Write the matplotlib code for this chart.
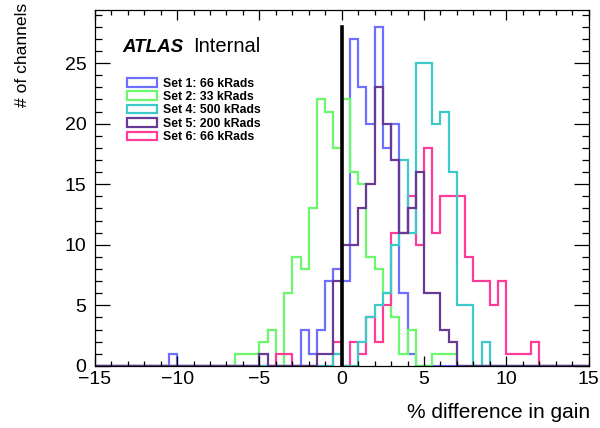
import numpy as np
import matplotlib
matplotlib.use('Agg')
import matplotlib.pyplot as plt
from matplotlib.patches import Rectangle
from matplotlib.ticker import MultipleLocator

plt.rcParams['font.family'] = ['Liberation Sans', 'DejaVu Sans']

# 60 bins of 0.5 from -15 to 15
x_lo, x_hi, bin_w = -15.0, 15.0, 0.5

labels = ['Set 1: 66 kRads', 'Set 2: 33 kRads', 'Set 4: 500 kRads',
          'Set 5: 200 kRads', 'Set 6: 66 kRads']
colors = ['#6e6eff', '#6cf76c', '#3ec9c9', '#683a96', '#ff3c98']

# lower edge of the first listed bin, then counts per 0.5 bin
set1_start = -10.5
set1_counts = [1, 0, 0, 0, 0, 0, 0, 0, 0, 0, 0, 0, 0, 0, 0, 0,
               3, 1, 3, 7, 8, 7, 27, 23, 20, 28, 18, 20, 6, 1]
set2_start = -6.5
set2_counts = [1, 1, 1, 2, 3, 0, 6, 9, 8, 13, 22, 21, 18, 22, 16, 15,
               9, 8, 6, 4, 1, 3, 0, 0, 1, 1, 1]
set4_start = -0.5
set4_counts = [1, 0, 0, 2, 4, 5, 6, 10, 17, 11, 25, 25, 20, 21, 16, 5,
               5, 0, 2]
set5_start = -5.0
set5_counts = [1, 0, 0, 0, 0, 0, 0, 1, 1, 7, 10, 10, 13, 15, 23, 20,
               17, 11, 13, 16, 6, 6, 3, 2]
set6_start = -4.0
set6_counts = [1, 1, 0, 0, 0, 0, 0, 2, 0, 2, 1, 4, 2, 5, 11, 11, 14, 10,
               18, 11, 14, 14, 14, 9, 7, 7, 5, 7, 1, 1, 1, 2]

ref_line_x = 0.0
ref_line_top = 28


def full_hist(start, counts, edges):
    h = np.zeros(len(edges) - 1)
    i0 = int(round((start - edges[0]) / bin_w))
    h[i0:i0 + len(counts)] = counts
    return h


def main():
    edges = np.linspace(x_lo, x_hi, int(round((x_hi - x_lo) / bin_w)) + 1)
    series = [(set1_start, set1_counts), (set2_start, set2_counts),
              (set4_start, set4_counts), (set5_start, set5_counts),
              (set6_start, set6_counts)]
    hists = [full_hist(s, c, edges) for s, c in series]

    fig = plt.figure(figsize=(6.0, 4.28), dpi=100)
    ax = fig.add_axes([0.158, 0.145, 0.823, 0.832])

    # drawing order as in the reference: 1, 2, 6, 4, 5
    for i in [0, 1, 4, 2, 3]:
        ax.stairs(hists[i], edges, color=colors[i], lw=1.6)

    ax.plot([ref_line_x, ref_line_x], [0, ref_line_top], color='black', lw=2.6)

    ax.set_xlim(x_lo, x_hi)
    ax.set_ylim(0, 29.4)
    ax.xaxis.set_major_locator(MultipleLocator(5))
    ax.xaxis.set_minor_locator(MultipleLocator(1))
    ax.yaxis.set_major_locator(MultipleLocator(5))
    ax.yaxis.set_minor_locator(MultipleLocator(1))
    ax.tick_params(which='both', direction='in', top=True, right=True,
                   labelsize=14, width=0.9)
    ax.tick_params(axis='x', which='major', length=7, pad=4)
    ax.tick_params(axis='x', which='minor', length=3.5)
    ax.tick_params(axis='y', which='major', length=10.5, pad=6)
    ax.tick_params(axis='y', which='minor', length=5.3)
    for sp in ax.spines.values():
        sp.set_linewidth(0.9)

    ax.set_xlabel('% difference in gain', fontsize=15, ha='right', va='top')
    ax.xaxis.set_label_coords(1.003, -0.105)
    ax.set_ylabel('# of channels', fontsize=12.6, ha='right')
    ax.yaxis.set_label_coords(-0.131, 1.02)

    ax.text(0.055, 0.883, 'ATLAS', transform=ax.transAxes, fontsize=13.5,
            fontweight='bold', fontstyle='italic', va='baseline')
    ax.text(0.2, 0.883, 'Internal', transform=ax.transAxes, fontsize=14.5,
            va='baseline')

    handles = [Rectangle((0, 0), 1, 1, fill=False, edgecolor=c, lw=1.6)
               for c in colors]
    ax.legend(handles, labels, loc='upper left', bbox_to_anchor=(0.066, 0.81),
              frameon=False, prop={'size': 8.8, 'weight': 'bold'},
              handlelength=2.45, handleheight=0.7, handletextpad=0.5,
              labelspacing=0.12, borderpad=0, borderaxespad=0)

    fig.savefig('out.png', dpi=100)


if __name__ == '__main__':
    main()
